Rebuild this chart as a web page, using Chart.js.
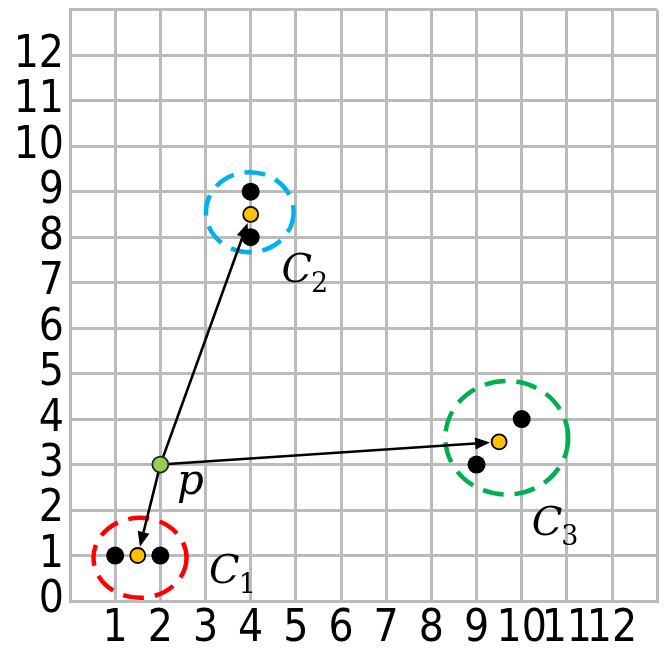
<!DOCTYPE html>
<html>
<head>
<meta charset="utf-8">
<script src="https://cdn.jsdelivr.net/npm/chart.js@4"></script>
<style>
  html, body { margin: 0; padding: 0; background: #fff; }
  #wrap { width: 667px; height: 650px; }
</style>
</head>
<body>
<div id="wrap"><canvas id="knnChart"></canvas></div>
<script>
// data points (two per cluster)
var pointX = [1, 2, 4, 4, 9, 10];
var pointY = [1, 1, 9, 8, 3, 4];

// cluster centroids
var centroidX = [1.5, 4, 9.5];
var centroidY = [1, 8.5, 3.5];

// query point p
var queryX = [2];
var queryY = [3];

var clusterNames = ['C', 'C', 'C'];
var clusterSubs = ['1', '2', '3'];

var tickValues = [0, 1, 2, 3, 4, 5, 6, 7, 8, 9, 10, 11, 12];

function toXY(xs, ys) {
  return xs.map(function (x, i) { return { x: x, y: ys[i] }; });
}

// dashed rings around each cluster (data units)
var ringStyle = [
  { color: '#ff0000', rx: 1.03, ry: 0.88, dx: 0.05, dy: -0.05 },
  { color: '#00b0f0', rx: 0.97, ry: 0.88, dx: -0.02, dy: 0.05 },
  { color: '#00b050', rx: 1.36, ry: 1.25, dx: 0.17, dy: 0.09 }
];
// label anchors (left, baseline) in data units
var labelPos = [
  { x: 3.08, y: 0.40 },
  { x: 4.68, y: 7.01 },
  { x: 10.22, y: 1.45 }
];
var pLabelPos = { x: 2.37, y: 2.36 };

var tickFont = { family: '"DejaVu Sans Condensed", "Open Sans", sans-serif', size: 44 };

function noPad(s) {
  s.paddingTop = 0;
  s.paddingBottom = 0;
  s.paddingLeft = 0;
  s.paddingRight = 0;
}

var overlay = {
  id: 'overlay',
  beforeDatasetsDraw: function (chart) {
    var c = chart.ctx, sx = chart.scales.x, sy = chart.scales.y;
    var ux = sx.getPixelForValue(1) - sx.getPixelForValue(0);
    var uy = sy.getPixelForValue(0) - sy.getPixelForValue(1);

    c.save();
    ringStyle.forEach(function (r, i) {
      c.beginPath();
      c.ellipse(sx.getPixelForValue(centroidX[i] + r.dx), sy.getPixelForValue(centroidY[i] + r.dy),
        r.rx * ux, r.ry * uy, 0, 0, Math.PI * 2);
      c.setLineDash([21, 11]);
      c.lineWidth = 4.5;
      c.strokeStyle = r.color;
      c.stroke();
    });
    c.setLineDash([]);

    // arrows from p to each centroid
    var px = sx.getPixelForValue(queryX[0]), py = sy.getPixelForValue(queryY[0]);
    c.strokeStyle = '#000';
    c.fillStyle = '#000';
    c.lineWidth = 2.6;
    centroidX.forEach(function (cx, i) {
      var tx = sx.getPixelForValue(cx), ty = sy.getPixelForValue(centroidY[i]);
      var a = Math.atan2(ty - py, tx - px);
      var ex = tx - Math.cos(a) * 9, ey = ty - Math.sin(a) * 9;
      var hl = 15, hw = 6;
      var bx = ex - Math.cos(a) * hl, by = ey - Math.sin(a) * hl;
      c.beginPath();
      c.moveTo(px, py);
      c.lineTo(bx, by);
      c.stroke();
      c.beginPath();
      c.moveTo(ex, ey);
      c.lineTo(bx - Math.sin(a) * hw, by + Math.cos(a) * hw);
      c.lineTo(bx + Math.sin(a) * hw, by - Math.cos(a) * hw);
      c.closePath();
      c.fill();
    });
    c.restore();
  },
  afterDatasetsDraw: function (chart) {
    var c = chart.ctx, sx = chart.scales.x, sy = chart.scales.y;
    c.save();
    c.fillStyle = '#000';
    c.textBaseline = 'alphabetic';
    c.textAlign = 'left';
    labelPos.forEach(function (l, i) {
      var x = sx.getPixelForValue(l.x), y = sy.getPixelForValue(l.y);
      c.font = 'italic 40px "DejaVu Serif", serif';
      c.fillText(clusterNames[i], x, y);
      var w = c.measureText(clusterNames[i]).width;
      c.font = '27px "DejaVu Serif", serif';
      c.fillText(clusterSubs[i], x + w - 1, y + 10);
    });
    c.font = 'italic 42px "DejaVu Serif", serif';
    c.fillText('p', sx.getPixelForValue(pLabelPos.x), sy.getPixelForValue(pLabelPos.y));
    c.restore();
  }
};

new Chart(document.getElementById('knnChart'), {
  type: 'scatter',
  data: {
    datasets: [{
      label: 'points',
      data: toXY(pointX, pointY),
      pointRadius: 9,
      pointHoverRadius: 9,
      backgroundColor: '#000',
      borderColor: '#000',
      borderWidth: 0,
      order: 2
    },
    {
      label: 'centroids',
      data: toXY(centroidX, centroidY),
      pointRadius: 7.5,
      pointHoverRadius: 7.5,
      backgroundColor: '#ffc000',
      borderColor: '#000',
      borderWidth: 1.8,
      order: 1
    },
    {
      label: 'p',
      data: toXY(queryX, queryY),
      pointRadius: 8,
      pointHoverRadius: 8,
      backgroundColor: '#92d050',
      borderColor: '#222',
      borderWidth: 1.8,
      order: 0
    }]
  },
  options: {
    responsive: true,
    maintainAspectRatio: false,
    animation: false,
    events: [],
    layout: { padding: { top: 9, right: -5, left: 0, bottom: 0 } },
    plugins: { legend: { display: false }, tooltip: { enabled: false } },
    scales: {
      x: {
        type: 'linear',
        min: 0,
        max: 13,
        afterFit: function (s) { s.height = 49; noPad(s); },
        afterBuildTicks: function (s) {
          s.ticks = tickValues.concat([13]).map(function (v) { return { value: v }; });
        },
        ticks: {
          autoSkip: false,
          maxRotation: 0,
          padding: 2,
          color: '#000',
          font: tickFont,
          callback: function (v) { return (v >= 1 && v <= 12) ? String(v) : ''; }
        },
        grid: { color: '#bbbbbb', lineWidth: 3, drawTicks: false },
        border: { color: '#bbbbbb', width: 3 }
      },
      y: {
        type: 'linear',
        min: 0,
        max: 13,
        afterFit: function (s) { s.width = 70; noPad(s); },
        afterBuildTicks: function (s) {
          s.ticks = tickValues.concat([13]).map(function (v) { return { value: v }; });
        },
        ticks: {
          autoSkip: false,
          padding: 6,
          color: '#000',
          font: tickFont,
          callback: function (v) { return v <= 12 ? String(v) : ''; }
        },
        grid: { color: '#bbbbbb', lineWidth: 3, drawTicks: false },
        border: { color: '#bbbbbb', width: 3 }
      }
    }
  },
  plugins: [overlay]
});
</script>
</body>
</html>
